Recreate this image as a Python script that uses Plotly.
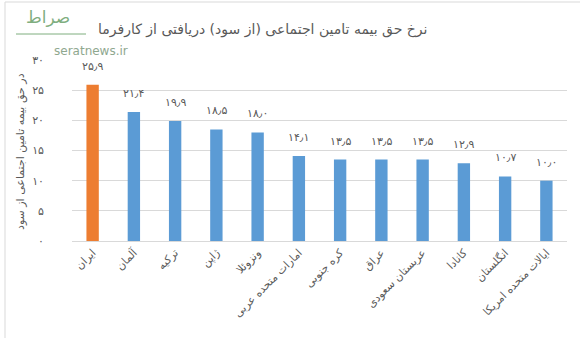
import plotly.graph_objects as go

categories = ["ایران", "آلمان", "ترکیه", "ژاپن", "ونزوئلا", "امارات متحده عربی",
              "کره جنوبی", "عراق", "عربستان سعودی", "کانادا", "انگلستان", "ایالات متحده امریکا"]
values = [25.9, 21.4, 19.9, 18.5, 18.0, 14.1, 13.5, 13.5, 13.5, 12.9, 10.7, 10.0]
tick_vals = [0, 5, 10, 15, 20, 25, 30]

title_text = "نرخ حق بیمه تامین اجتماعی (از سود) دریافتی از کارفرما"
ytitle_text = "در حق بیمه تامین اجتماعی از سود"

FA = str.maketrans("0123456789.", "۰۱۲۳۴۵۶۷۸۹٫")
def fa(s):
    return s.translate(FA)

tick_text = [fa(str(v)) for v in tick_vals]
label_text = [fa(f"{v:.1f}") for v in values]
colors = ["#ED7D31"] + ["#5B9BD5"] * (len(values) - 1)

FONT = "DejaVu Sans"
GRAY = "#595959"

W, H = 580, 357
L, R, T, B = 72, 13, 60, 116
pw, ph = W - L - R, H - T - B
def px(x):
    return (x - L) / pw
def py(y):
    return (H - B - y) / ph

fig = go.Figure()
fig.add_trace(go.Bar(x=categories, y=values, marker=dict(color=colors, line=dict(width=0)),
                     width=0.3, hoverinfo="skip"))

for c, v, t in zip(categories, values, label_text):
    fig.add_annotation(x=c, y=v, text=t, showarrow=False, yanchor="bottom", yshift=10,
                       font=dict(family=FONT, size=11, color=GRAY))

fig.add_annotation(xref="paper", yref="paper", x=px(263), y=py(29), text=title_text,
                   showarrow=False, xanchor="center", yanchor="middle",
                   font=dict(family=FONT, size=14, color=GRAY))
fig.add_annotation(xref="paper", yref="paper", x=px(21), y=py(152), text=ytitle_text,
                   showarrow=False, textangle=-90, xanchor="center", yanchor="middle",
                   font=dict(family=FONT, size=11, color=GRAY))
# watermark
fig.add_annotation(xref="paper", yref="paper", x=px(24), y=py(5), text="صراط",
                   showarrow=False, xanchor="left", yanchor="top",
                   font=dict(family=FONT, size=17, color="#7fae7f"))
fig.add_shape(type="line", xref="paper", yref="paper", x0=px(16), x1=px(86), y0=py(34), y1=py(34),
              line=dict(color="#7fae7f", width=1))
fig.add_annotation(xref="paper", yref="paper", x=px(52), y=py(42), text="seratnews.ir",
                   showarrow=False, font=dict(family=FONT, size=12, color="#8fa88f"))

# chart border
fig.add_shape(type="line", xref="paper", yref="paper", x0=px(5), x1=px(5), y0=py(2), y1=py(338),
              line=dict(color="#d9d9d9", width=1))
fig.add_shape(type="line", xref="paper", yref="paper", x0=px(5), x1=px(585), y0=py(2), y1=py(2),
              line=dict(color="#d9d9d9", width=1))

fig.update_layout(
    width=W, height=H, margin=dict(l=L, r=R, t=T, b=B),
    paper_bgcolor="white", plot_bgcolor="white", showlegend=False, bargap=0.7,
    font=dict(family=FONT, size=11, color=GRAY),
    xaxis=dict(tickangle=-45, tickfont=dict(family=FONT, size=11, color=GRAY),
               showgrid=False, showline=True, linecolor="#d9d9d9", ticks="", fixedrange=True),
    yaxis=dict(range=[0, 30], tickvals=tick_vals, ticktext=tick_text, showgrid=True,
               gridcolor="#d9d9d9", zeroline=False, showline=False, ticks="",
               ticklabelstandoff=27, tickfont=dict(family=FONT, size=11, color=GRAY)),
)

fig.write_html("out.html", config={"displayModeBar": False},
               post_script="document.body.style.margin='0';")
